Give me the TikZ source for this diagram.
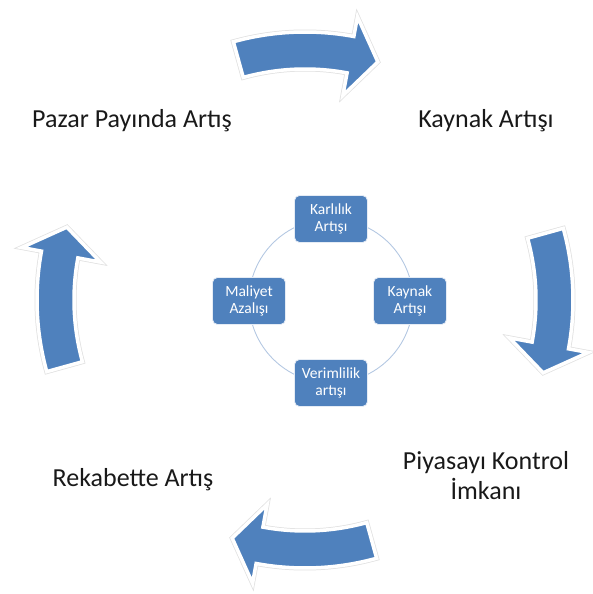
\documentclass[tikz,border=0pt]{standalone}
\usepackage{fontspec}
\setmainfont{Carlito}
\usepackage{tikz}

\definecolor{arrowblue}{HTML}{4F81BD}
\definecolor{ringblue}{HTML}{B4C8E2}

\tikzset{
  bigarrow/.style={fill=arrowblue, draw=white, line width=3.5pt, line join=miter},
  arrowshadow/.style={fill=black, draw=black, line width=5pt, opacity=0.12, line join=miter},
  stage/.style={rectangle, rounded corners=5pt, fill=arrowblue, draw=white!85!arrowblue,
    line width=0.8pt, text=white, minimum width=73pt, minimum height=47pt, inner sep=2pt,
    align=center, font=\fontsize{15.5}{16.5}\selectfont},
  outer/.style={anchor=base, align=center, text=black!90, font=\fontsize{26}{30}\selectfont},
  ring/.style={draw=ringblue, line width=0.9pt}
}

\begin{document}
\begin{tikzpicture}[x=1pt,y=1pt]
    \useasboundingbox (0,0) rectangle (592,594);
    \coordinate (c) at (305,294);
    \coordinate (o) at (331,293);

    % four curved arrows round the cycle
    \foreach \b in {90,0,-90,180} {
        \foreach \sty/\dx/\dy in {arrowshadow/2/-3, bigarrow/0/0} {
            \draw[\sty, shift={(\dx,\dy)}] ([shift={(\b+15.5:268pt)}]c)
                arc[start angle=\b+15.5, end angle=\b-10.5, radius=268pt]
                -- ([shift={(\b-10.5:288pt)}]c)
                -- ([shift={(\b-17:249pt)}]c)
                -- ([shift={(\b-10.5:208pt)}]c)
                -- ([shift={(\b-10.5:231pt)}]c)
                arc[start angle=\b-10.5, end angle=\b+15.5, radius=231pt]
                -- cycle;
        }
    }

    % outer labels
    \node[outer] (pazar) at (132,466) {Pazar Payında Artış};
    \node[outer] (kaynak) at (486,466) {Kaynak Artışı};
    \node[outer] (piyasa) at (486,94) {Piyasayı Kontrol\\İmkanı};
    \node[outer] (rekabet) at (133,107) {Rekabette Artış};

    % inner ring
    \draw[ring] (o) circle[radius=82pt];
    \node[stage] (karlilik) at ([shift={(90:82pt)}]o) {Karlılık\\Artışı};
    \node[stage] (kaynakin) at ([shift={(0:79pt)}]o) {Kaynak\\Artışı};
    \node[stage] (verimlilik) at ([shift={(-90:82pt)}]o) {Verimlilik\\artışı};
    \node[stage] (maliyet) at ([shift={(180:82pt)}]o) {Maliyet\\Azalışı};
\end{tikzpicture}
\end{document}
